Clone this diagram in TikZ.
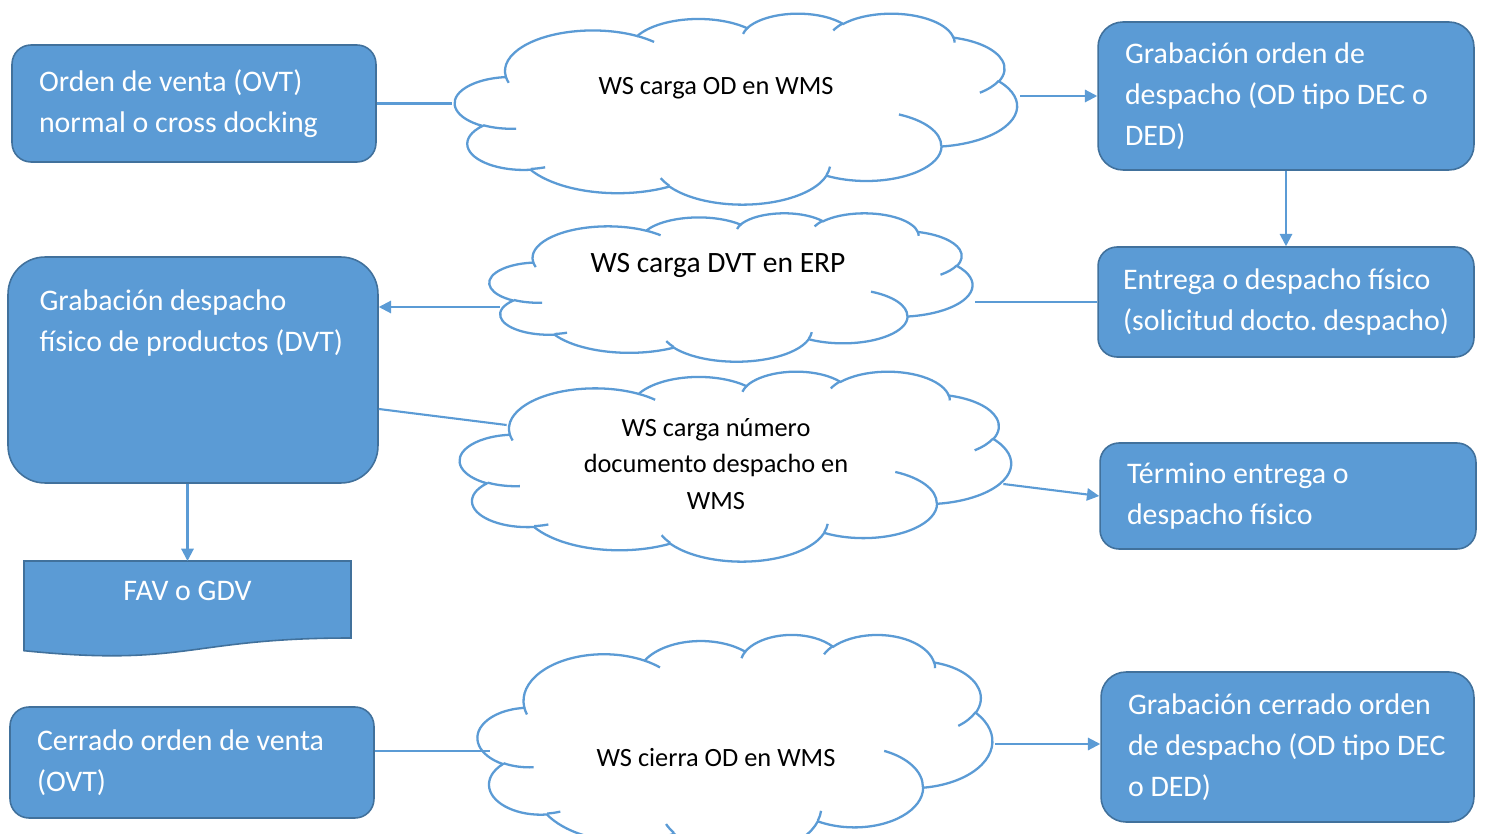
\documentclass[tikz,border=0pt]{standalone}
\usepackage{fontspec}
\setmainfont{Carlito}
\frenchspacing
\usetikzlibrary{arrows.meta, positioning}
\definecolor{officeblue}{HTML}{5B9BD5}
\definecolor{officeedge}{HTML}{41719C}
\tikzset{
box/.style={rectangle, rounded corners=0.38cm, fill=officeblue, draw=officeedge, line width=0.9pt, text=white, align=flush left, inner xsep=0.54cm, inner ysep=0pt, font=\fontsize{17}{23.3}\selectfont}, % blue process boxes
boxtext/.style={text=white, align=flush left, inner sep=0pt, font=\fontsize{17}{23.3}\selectfont}, % text placed apart from its box
docshape/.style={fill=officeblue, draw=officeedge, line width=0.9pt}, % document symbol
cloudbox/.style={rectangle, inner sep=0pt}, % invisible frame of a cloud
cloudtext/.style={align=flush center, inner sep=0pt, font=\fontsize{15}{21}\selectfont}, % black text in the clouds
cloudline/.style={draw=officeblue, line width=1.3pt}, % cloud outline
link/.style={draw=officeblue, line width=1.2pt}, % plain connector
arrow/.style={link, -{Triangle[length=7pt, width=7pt]}}, % connector with head
}
% cloud: name, centre, width, height (px)
\newcommand{\wscloud}[4]{%
  \begin{scope}[shift={(#2)}, x=#3*0.0002cm, y=-#4*0.0002cm, shift={(-50,-50)}]
    \filldraw[cloudline, fill=white] (9.028,33.264)
      arc[start angle=-187.745, delta angle=128.112, x radius=15.632, y radius=21.273]
      arc[start angle=-152.03, delta angle=106.58, x radius=12.345, y radius=16.822]
      arc[start angle=-153.489, delta angle=116.171, x radius=10.104, y radius=13.762]
      arc[start angle=-139.716, delta angle=129.504, x radius=11.243, y radius=15.266]
      arc[start angle=-74.767, delta angle=97.977, x radius=12.345, y radius=16.836]
      arc[start angle=-37.513, delta angle=119.375, x radius=15.683, y radius=21.343]
      arc[start angle=0.46, delta angle=121.516, x radius=13.391, y radius=18.211]
      arc[start angle=16.844, delta angle=129.394, x radius=15.63, y radius=21.331]
      arc[start angle=58.989, delta angle=91.208, x radius=17.87, y radius=24.405]
      arc[start angle=-276.694, delta angle=139.808, x radius=10.093, y radius=13.699]
      arc[start angle=-239.645, delta angle=143.758, x radius=10.058, y radius=13.762]
      -- cycle;
    \draw[cloudline]
      (10.864,60.595) arc[start angle=85.546, delta angle=34.809, x radius=10.058, y radius=13.762]
      (16.037,80.785) arc[start angle=68.235, delta angle=15.071, x radius=10.093, y radius=13.699]
      (38.144,90.486) arc[start angle=146.238, delta angle=12.238, x radius=15.63, y radius=21.331]
      (66.729,80.442) arc[start angle=4.738, delta angle=12.106, x radius=15.63, y radius=21.331]
      (79.002,53.134) arc[start angle=-64.028, delta angle=64.488, x radius=13.391, y radius=18.211]
      (96.755,35.542) arc[start angle=23.21, delta angle=26.429, x radius=12.345, y radius=16.836]
      (88.713,12.56) arc[start angle=-10.212, delta angle=11.033, x radius=11.243, y radius=15.266]
      (67.31,9.148) arc[start angle=-156.292, delta angle=16.576, x radius=11.243, y radius=15.266]
      (51.252,10.926) arc[start angle=-167.726, delta angle=14.237, x radius=10.104, y radius=13.762]
      (32.407,12.019) arc[start angle=-59.633, delta angle=13.906, x radius=15.632, y radius=21.273]
      (9.553,36.549) arc[start angle=163.194, delta angle=9.061, x radius=15.632, y radius=21.273];
  \end{scope}
  \node[cloudbox, minimum width=#3*0.02cm, minimum height=#4*0.02cm] (#1) at (#2) {};}

\begin{document}
\begin{tikzpicture}[x=0.02cm, y=-0.02cm]
\clip (0,0) rectangle (1488,834);
% web service clouds
\wscloud{c1}{736,108.5}{568}{193}
\wscloud{c2}{731,287}{488}{150}
\wscloud{c3}{735.5,466}{557}{192}
\wscloud{c4}{735,744}{520}{222}
\node[cloudtext] (c1t) at (716,88) {WS carga OD en WMS};
\node[cloudtext, font=\fontsize{16.8}{21}\selectfont] (c2t) at (718,265) {WS carga DVT en ERP};
\node[cloudtext] (c3t) at (716,464) {WS carga número\\documento despacho en\\WMS};
\node[cloudtext] (c4t) at (716,758) {WS cierra OD en WMS};

% left column
\node[box, text width=6.2cm, minimum height=2.34cm] (ovt) at (194,103.5) {Orden de venta (OVT)\\normal o cross docking};
\node[box, rounded corners=0.74cm, text width=6.32cm, minimum height=4.52cm] (dvt) at (193,370) {};
\node[boxtext, anchor=north west] (dvttext) at ([shift={(32,33)}]dvt.north west) {Grabación despacho\\físico de productos (DVT)};
\filldraw[docshape] (24,561) -- (351,561) -- (351,638) .. controls (187.5,638) and (187.5,667.3) .. (24,650.7) -- cycle;
\node[boxtext] (fav) at (187.5,591) {FAV o GDV};
\node[box, text width=6.2cm, minimum height=2.22cm] (cov) at (192,762.5) {Cerrado orden de venta\\(OVT)};

% right column
\node[box, rounded corners=0.5cm, text width=6.44cm, minimum height=2.96cm] (odb) at (1286,96) {Grabación orden de\\despacho (OD tipo DEC o\\DED)};
\node[box, inner xsep=0.5cm, text width=6.52cm, minimum height=2.2cm] (ecf) at (1286,302) {Entrega o despacho físico\\(solicitud docto. despacho)};
\node[box, text width=6.44cm, minimum height=2.12cm] (tef) at (1288,496) {Término entrega o\\despacho físico};
\node[box, rounded corners=0.5cm, text width=6.38cm, minimum height=3cm] (gco) at (1287.5,747) {Grabación cerrado orden\\de despacho (OD tipo DEC\\o DED)};

% connector ends on the clouds
\coordinate (c2in) at ([shift={(13,20)}]c2.west);
\coordinate (c3in) at ([shift={(50,-41)}]c3.west);
\coordinate (c3out) at ([shift={(-11,18)}]c3.east);
\coordinate (c4in) at ([shift={(15,7)}]c4.west);
\coordinate (favtop) at (187.5,561);

\draw[link] (ovt.east) -- (ovt.east -| c1.west);
\draw[arrow] (c1.east |- odb.west) -- (odb.west);
\draw[arrow] (odb) -- (ecf);
\draw[link] (ecf.west) -- (ecf.west -| c2.east);
\draw[arrow] (c2in) -- (c2in -| dvt.east);
\draw[link] ([shift={(0,39)}]dvt.east) -- (c3in);
\draw[arrow] (c3out) -- (tef.west);
\draw[arrow] (dvt.south -| favtop) -- (favtop);
\draw[link] (cov.east |- c4in) -- (c4in);
\draw[arrow] (c4.east) -- (c4.east -| gco.west);
\end{tikzpicture}
\end{document}
